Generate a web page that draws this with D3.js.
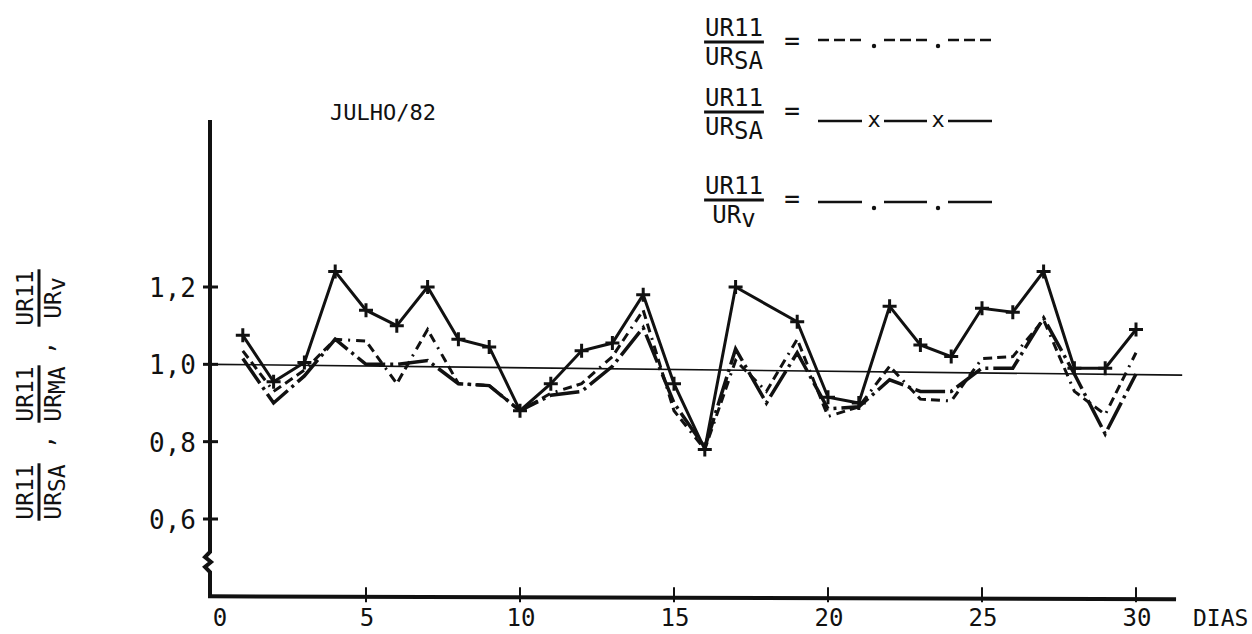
<!DOCTYPE html>
<html>
<head>
<meta charset="utf-8">
<script src="https://cdn.jsdelivr.net/npm/d3@7/dist/d3.min.js"></script>
<style>
  body { margin: 0; background: #fff; }
  text { font-family: "DejaVu Sans Mono", monospace; fill: #111; }
</style>
</head>
<body>
<div id="chart"></div>
<script>
// DATA
const days = d3.range(1, 31);
const xTicks = [0, 5, 10, 15, 20, 25, 30];
const yTicks = [0.6, 0.8, 1.0, 1.2];
const yTickLabels = ["0,6", "0,8", "1,0", "1,2"];

// UR11/URSA  ---.---.---
const ratioDash = [1.035, 0.93, 0.985, 1.065, 1.06, 0.95, 1.09, 0.95, 0.945, 0.88,
  0.925, 0.95, 1.02, 1.14, 0.88, 0.78, 1.01, 0.93, 1.065, 0.865,
  0.89, 0.995, 0.91, 0.905, 1.015, 1.02, 1.115, 0.93, 0.87, 1.03];
// UR11/URSA  —x—x—  (no point on day 18)
const ratioCross = [1.075, 0.955, 1.005, 1.24, 1.14, 1.10, 1.20, 1.065, 1.045, 0.88,
  0.95, 1.035, 1.055, 1.18, 0.95, 0.78, 1.20, null, 1.11, 0.915,
  0.90, 1.15, 1.05, 1.02, 1.145, 1.135, 1.24, 0.99, 0.99, 1.09];
// UR11/URv  —.—.—
const ratioLong = [1.015, 0.90, 0.97, 1.065, 1.0, 1.0, 1.01, 0.95, 0.945, 0.88,
  0.92, 0.93, 0.995, 1.095, 0.90, 0.785, 1.04, 0.90, 1.03, 0.885,
  0.89, 0.96, 0.93, 0.93, 0.99, 0.99, 1.12, 0.975, 0.82, 0.975];

// reference line at 1,0 (slightly tilted in the scan)
const refDays = [0, 31.5];
const refVals = [1.0, 0.972];

// SIZES
const width = 1252, height = 634;
const svg = d3.select("#chart").append("svg")
  .attr("width", width)
  .attr("height", height);

// scales
const x = d3.scaleLinear().domain([0, 30]).range([212, 1136]);
const y = d3.scaleLinear().domain([0.6, 1.2]).range([519, 287]);
const axisX = 210;
const axisBottom = y(0.4);
const axisTop = 120;
const axisRight = x(31.3);

// y axis with break
svg.append("path")
  .attr("d", `M${axisX},${axisTop} L${axisX},552 l-5,5 l6,5 l-6,5 l5,5 L${axisX},${axisBottom}`)
  .attr("fill", "none").attr("stroke", "#111").attr("stroke-width", 4);

svg.selectAll(".ytick").data(yTicks).join("line")
  .attr("x1", axisX - 7).attr("x2", axisX + 8)
  .attr("y1", d => y(d)).attr("y2", d => y(d))
  .attr("stroke", "#111").attr("stroke-width", 3);

svg.selectAll(".ylab").data(yTicks).join("text")
  .attr("x", 196).attr("y", d => y(d) + 10)
  .attr("text-anchor", "end")
  .style("font-size", "26px")
  .text((d, i) => yTickLabels[i]);

// x axis
svg.append("line")
  .attr("x1", axisX - 2).attr("x2", axisRight)
  .attr("y1", axisBottom).attr("y2", axisBottom + 3)
  .attr("stroke", "#111").attr("stroke-width", 4);

svg.selectAll(".xtick").data(xTicks.slice(1)).join("line")
  .attr("x1", d => x(d)).attr("x2", d => x(d))
  .attr("y1", axisBottom - 9).attr("y2", axisBottom + 6)
  .attr("stroke", "#111").attr("stroke-width", 2);

svg.selectAll(".xlab").data(xTicks).join("text")
  .attr("x", d => x(d) + (d === 0 ? 8 : 1)).attr("y", 626)
  .attr("text-anchor", "middle")
  .style("font-size", "24px")
  .text(d => d);

svg.append("text")
  .attr("x", 1193).attr("y", 626)
  .style("font-size", "23px")
  .text("DIAS");

svg.append("text")
  .attr("x", 330).attr("y", 120)
  .style("font-size", "22px")
  .text("JULHO/82");

// reference line
svg.append("path")
  .attr("d", d3.line().x(d => x(d[0])).y(d => y(d[1]))(refDays.map((d, i) => [d, refVals[i]])))
  .attr("stroke", "#111").attr("stroke-width", 1.6).attr("fill", "none");

// series
const line = d3.line().x(d => x(d.day)).y(d => y(d.v));
const pts = arr => days.map((d, i) => ({ day: d, v: arr[i] })).filter(d => d.v != null);

svg.append("path")
  .attr("d", line(pts(ratioLong)))
  .attr("fill", "none").attr("stroke", "#111").attr("stroke-width", 3.5)
  .attr("stroke-dasharray", "30,5,3,5");

svg.append("path")
  .attr("d", line(pts(ratioDash)))
  .attr("fill", "none").attr("stroke", "#111").attr("stroke-width", 3)
  .attr("stroke-dasharray", "9,5,9,5,9,6,2,6");

svg.append("path")
  .attr("d", line(pts(ratioCross)))
  .attr("fill", "none").attr("stroke", "#111").attr("stroke-width", 3);

svg.selectAll(".cross").data(pts(ratioCross)).join("path")
  .attr("transform", d => `translate(${x(d.day)},${y(d.v)})`)
  .attr("d", "M-7,0 H7 M0,-7 V7")
  .attr("stroke", "#111").attr("stroke-width", 3);

// fraction helper: UR_11 over UR_sub
function fraction(g, cx, cy, denSub, size) {
  const num = g.append("text").attr("x", cx).attr("y", cy - size * 0.24)
    .attr("text-anchor", "middle").style("font-size", size + "px");
  num.append("tspan").text("UR");
  num.append("tspan").text("11");
  const den = g.append("text").attr("x", cx).attr("y", cy + size * 0.96)
    .attr("text-anchor", "middle").style("font-size", size + "px");
  den.append("tspan").text("UR");
  den.append("tspan").attr("dy", size * 0.18).text(denSub);
  const w = Math.max(num.node().getComputedTextLength(), den.node().getComputedTextLength());
  g.append("line")
    .attr("x1", cx - w / 2 - 1).attr("x2", cx + w / 2 + 1)
    .attr("y1", cy).attr("y2", cy)
    .attr("stroke", "#111").attr("stroke-width", 3);
}

// y axis title (rotated)
const yTitle = svg.append("g").attr("transform", "translate(39,397) rotate(-90)");
fraction(yTitle, -95, 0, "SA", 23);
yTitle.append("text").attr("x", -52).attr("y", 14).style("font-size", "24px").text(",");
fraction(yTitle, 3, 0, "MA", 23);
yTitle.append("text").attr("x", 42).attr("y", 14).style("font-size", "24px").text(",");
fraction(yTitle, 99, 0, "v", 23);

// legend
const legendRows = [
  { barY: 42, lineY: 40, sub: "SA", kind: "dash" },
  { barY: 112, lineY: 121, sub: "SA", kind: "cross" },
  { barY: 200, lineY: 202, sub: "v", kind: "long" }
];
const legend = svg.append("g");
legendRows.forEach(r => {
  fraction(legend, 734, r.barY, r.sub, 24);
  legend.append("text").attr("x", 792).attr("y", r.barY + 8)
    .attr("text-anchor", "middle").style("font-size", "26px").text("=");
  const segs = [[818, 862], [884, 927], [948, 992]];
  segs.forEach(s => {
    legend.append("line")
      .attr("x1", s[0]).attr("x2", s[1]).attr("y1", r.lineY).attr("y2", r.lineY)
      .attr("stroke", "#111").attr("stroke-width", 2.5)
      .attr("stroke-dasharray", r.kind === "dash" ? "11,5" : null);
  });
  [874, 938].forEach(cx => {
    if (r.kind === "cross") {
      legend.append("text").attr("x", cx).attr("y", r.lineY + 6)
        .attr("text-anchor", "middle").style("font-size", "22px").text("x");
    } else {
      legend.append("circle").attr("cx", cx).attr("cy", r.lineY + 6).attr("r", 2.2).attr("fill", "#111");
    }
  });
});
</script>
</body>
</html>
